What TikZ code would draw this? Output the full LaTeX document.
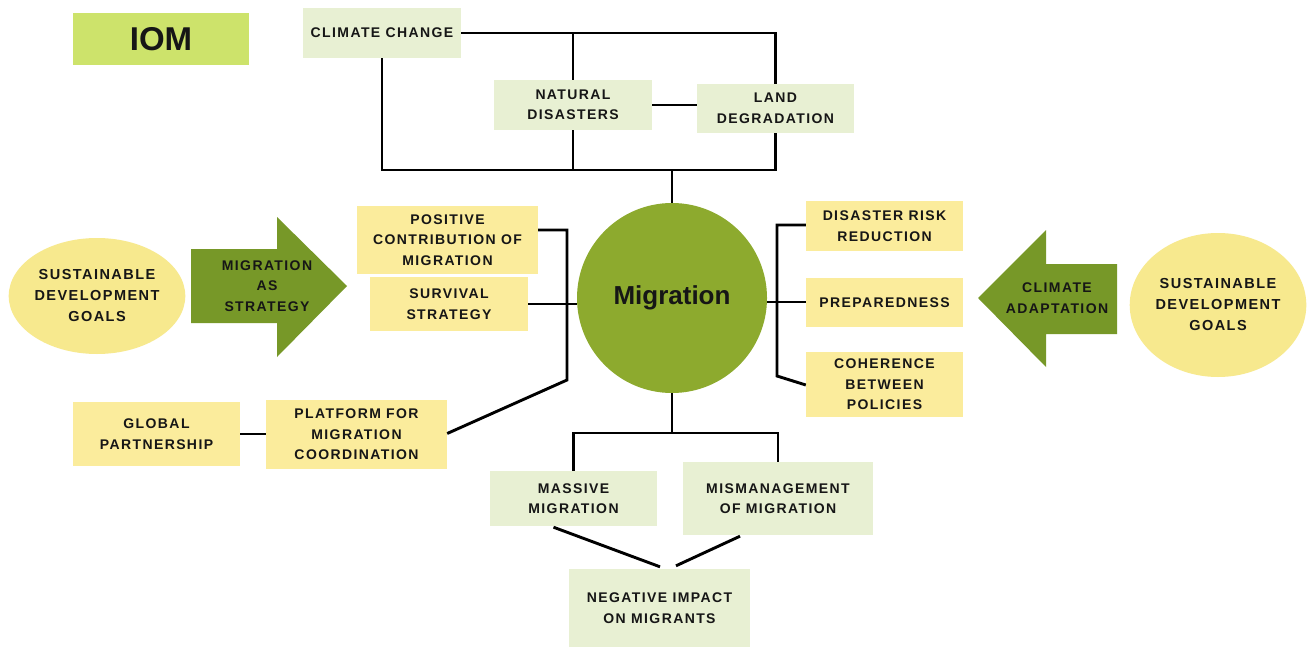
\documentclass[tikz,border=0pt]{standalone}
\usepackage{fontspec}
\setmainfont{Liberation Sans}
\newfontfamily\lblfont[LetterSpace=10]{Liberation Sans}
\usetikzlibrary{calc,shapes.geometric}

\definecolor{palegreen}{HTML}{E8F0D3}
\definecolor{paleyellow}{HTML}{FBEC9C}
\definecolor{ellyellow}{HTML}{F7E98E}
\definecolor{olive}{HTML}{8DAA2E}
\definecolor{arrowgreen}{HTML}{779828}
\definecolor{lime}{HTML}{CDE36B}
\definecolor{ink}{HTML}{161616}

\tikzset{
  lbl/.style={font=\lblfont\bfseries\fontsize{14bp}{20.5bp}\selectfont,
              text=ink, align=center, inner sep=0pt},
  gbox/.style={lbl, fill=palegreen},
  ybox/.style={lbl, fill=paleyellow},
  goal/.style={lbl, ellipse, fill=ellyellow,
               font=\lblfont\bfseries\fontsize{14.5bp}{21bp}\selectfont},
  link/.style={draw=black, line width=2.9bp, line join=miter},
}

\begin{document}
\begin{tikzpicture}[x=1bp, y=-1bp]
\useasboundingbox[fill=white] (0,0) rectangle (1308,648);

% title tag
\node[fill=lime, minimum width=176bp, minimum height=52bp, inner sep=0pt,
      font=\bfseries\fontsize{33bp}{36bp}\selectfont, text=ink] (iom) at (161,39) {IOM};

% causes
\node[gbox, minimum width=158bp, minimum height=50bp] (cc) at (382,33) {CLIMATE CHANGE};
\node[gbox, minimum width=158bp, minimum height=50bp] (nd) at (573,105) {NATURAL\\DISASTERS};
\node[gbox, minimum width=157bp, minimum height=49bp] (ld) at (775.5,108.5) {LAND\\DEGRADATION};

% centre
\node[circle, fill=olive, minimum size=190bp, inner sep=0pt,
      font=\bfseries\fontsize{26bp}{30bp}\selectfont, text=ink] (mig) at (672,298) {Migration};

% left side
\node[ybox, minimum width=181bp, minimum height=68bp] (pos) at (447.5,240) {POSITIVE\\CONTRIBUTION OF\\MIGRATION};
\node[ybox, minimum width=158bp, minimum height=54bp] (surv) at (449,304) {SURVIVAL\\STRATEGY};
\node[goal, minimum width=174bp, minimum height=116bp] (sdgl) at (97,296) {SUSTAINABLE\\DEVELOPMENT\\GOALS};
\fill[arrowgreen] (191,249) -- (277,249) -- (277,217) -- (347,286) -- (277,357) -- (277,323) -- (191,323) -- cycle;
\node[lbl] (mas) at (267,286) {MIGRATION\\AS\\STRATEGY};
\node[ybox, minimum width=167bp, minimum height=64bp] (gp) at (156.5,434) {GLOBAL\\PARTNERSHIP};
\node[ybox, minimum width=181bp, minimum height=69bp] (plat) at (356.5,434.5) {PLATFORM FOR\\MIGRATION\\COORDINATION};

% right side
\node[ybox, minimum width=157bp, minimum height=50bp] (drr) at (884.5,226) {DISASTER RISK\\REDUCTION};
\node[ybox, minimum width=157bp, minimum height=49bp] (prep) at (884.5,302.5) {PREPAREDNESS};
\node[ybox, minimum width=157bp, minimum height=65bp] (coh) at (884.5,384.5) {COHERENCE\\BETWEEN\\POLICIES};
\fill[arrowgreen] (1117,264) -- (1046,264) -- (1046,230) -- (978,298) -- (1046,367) -- (1046,334) -- (1117,334) -- cycle;
\node[lbl] (cad) at (1057,298) {CLIMATE\\ADAPTATION};
\node[goal, minimum width=176bp, minimum height=144bp] (sdgr) at (1218,305) {SUSTAINABLE\\DEVELOPMENT\\GOALS};

% consequences
\node[gbox, minimum width=167bp, minimum height=55bp] (mm) at (573.5,498.5) {MASSIVE\\MIGRATION};
\node[gbox, minimum width=190bp, minimum height=73bp] (mis) at (778,498.5) {MISMANAGEMENT\\OF MIGRATION};
\node[gbox, minimum width=181bp, minimum height=78bp] (neg) at (659.5,608) {NEGATIVE IMPACT\\ON MIGRANTS};

% junction points
\coordinate (topbar) at (573,33);
\coordinate (lowbar) at (672,170);
\coordinate (lbrack) at (567,380);
\coordinate (rbrack) at (777,376);
\coordinate (botbar) at (672,433);

% upper tree
\draw[link] (cc.east) -- (ld.north |- cc.east) -- (ld.north);
\draw[link] (topbar) -- (nd.north -| topbar);
\draw[link] (cc.south) -- (cc.south |- lowbar) -- (ld.south |- lowbar) -- (ld.south);
\draw[link] (nd.south) -- (nd.south |- lowbar);
\draw[link] (nd.east) -- (ld.west |- nd.east);
\draw[link] (lowbar) -- (mig.north);

% left bracket
\draw[link] (pos.east |- 0,230) -- (lbrack |- 0,230) -- (lbrack) -- ($(plat.east)+(0,-1)$);
\draw[link] (surv.east |- 0,304) -- (mig.west |- 0,304);
\draw[link] (gp.east) -- (plat.west |- gp.east);

% right bracket
\draw[link] (mig.east |- 0,302) -- (prep.west |- 0,302);
\draw[link] (drr.west |- 0,225) -- (rbrack |- 0,225) -- (rbrack) -- ($(coh.west)+(0,0.5)$);

% lower tree
\draw[link] (mig.south) -- (botbar);
\draw[link] (mm.north) -- (mm.north |- botbar) -- (mis.north |- botbar) -- (mis.north);
\draw[link] ($(mm.south)+(-20,1)$) -- ($(neg.north)+(0.5,-2)$);
\draw[link] ($(mis.south)+(-38,1)$) -- ($(neg.north)+(16.5,-3)$);
\end{tikzpicture}
\end{document}
